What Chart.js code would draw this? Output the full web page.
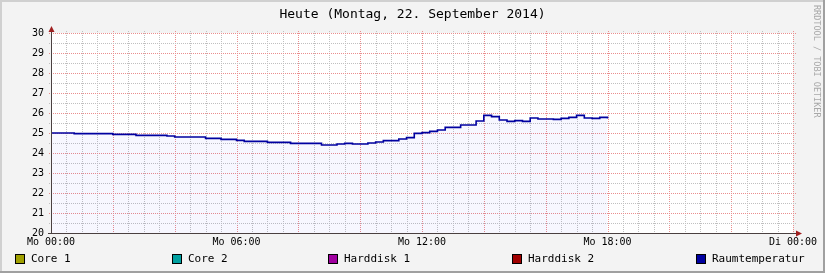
<!DOCTYPE html>
<html>
<head>
<meta charset="utf-8">
<script src="https://cdn.jsdelivr.net/npm/chart.js@4"></script>
<style>
  html, body { margin: 0; padding: 0; background: #f3f3f3; }
  #wrap { width: 825px; height: 273px; }
</style>
</head>
<body>
<div id="wrap"><canvas id="rrd" width="825" height="273"></canvas></div>
<script>
const seriesNames = ["Core 1", "Core 2", "Harddisk 1", "Harddisk 2", "Raumtemperatur"];
const seriesColors = ["#a0a000", "#00a0a0", "#a000a0", "#a00000", "#0000a0"];
const stepMinutes = 15;
const raumTemp = [
  25.0, 25.0, 25.0, 24.97, 24.97, 24.97, 24.97, 24.97, 24.93, 24.93,
  24.93, 24.88, 24.88, 24.88, 24.88, 24.85, 24.8, 24.8, 24.8, 24.8,
  24.73, 24.73, 24.68, 24.68, 24.63, 24.58, 24.58, 24.58, 24.53, 24.53,
  24.53, 24.48, 24.48, 24.48, 24.48, 24.4, 24.4, 24.45, 24.48, 24.45,
  24.45, 24.5, 24.55, 24.62, 24.62, 24.7, 24.77, 24.98, 25.02, 25.08,
  25.15, 25.28, 25.28, 25.4, 25.4, 25.6, 25.88, 25.82, 25.65, 25.58,
  25.62, 25.58, 25.75, 25.7, 25.7, 25.68, 25.73, 25.78, 25.88, 25.75,
  25.73, 25.78, 25.73
];
const xTickLabels = { 0: "Mo 00:00", 360: "Mo 06:00", 720: "Mo 12:00", 1080: "Mo 18:00", 1440: "Di 00:00" };
const titleText = "Heute (Montag, 22. September 2014)";
const watermark = "RRDTOOL / TOBI OETIKER";

const MONO = "'DejaVu Sans Mono', monospace";
const gridRed = "#ea8e8e";
const gridGray = "#c0c0c0";
const legendX = [15, 172, 328, 512, 696];
// Gitter: fein alle 30 min / 0,5 Grad, grob alle 2 h / 1 Grad
const xMinor = 30, xMajor = 120, yMinor = 0.5, yMajor = 1;

const raumPoints = raumTemp.map((v, i) => ({ x: i * stepMinutes, y: v }));

const datasets = seriesNames.map((name, i) => ({
  label: name,
  data: name === "Raumtemperatur" ? raumPoints : [],
  borderColor: seriesColors[i],
  backgroundColor: "rgba(0, 0, 255, 0.03)",
  borderWidth: 1.6,
  pointRadius: 0,
  stepped: true,
  fill: name === "Raumtemperatur" ? "start" : false,
}));

function dottedV(ctx, x, y0, y1) {
  for (let y = y0; y <= y1; y += 2) ctx.fillRect(x, y, 1, 1);
}
function dottedH(ctx, y, x0, x1) {
  for (let x = x0; x <= x1; x += 2) ctx.fillRect(x, y, 1, 1);
}

const rrdDeko = {
  id: "rrdDeko",
  beforeDraw(chart) {
    const { ctx, chartArea: a } = chart;
    ctx.save();
    ctx.fillStyle = "#f3f3f3";
    ctx.fillRect(0, 0, chart.width, chart.height);
    // Rahmen
    ctx.fillStyle = "#d0d0d0";
    ctx.fillRect(0, 0, chart.width, 2);
    ctx.fillRect(0, 0, 2, chart.height);
    ctx.fillStyle = "#a0a0a0";
    ctx.fillRect(0, chart.height - 2, chart.width, 2);
    ctx.fillRect(chart.width - 2, 0, 2, chart.height);
    ctx.fillStyle = "#ffffff";
    ctx.fillRect(a.left, a.top, a.right - a.left, a.bottom - a.top);
    ctx.restore();
  },
  beforeDatasetsDraw(chart) {
    const { ctx, chartArea: a, scales } = chart;
    const top = Math.round(a.top), bottom = Math.round(a.bottom);
    const left = Math.round(a.left), right = Math.round(a.right);
    ctx.save();
    for (let m = scales.x.min + xMinor; m <= scales.x.max; m += xMinor) {
      const x = Math.round(scales.x.getPixelForValue(m));
      ctx.fillStyle = m % xMajor === 0 ? gridRed : gridGray;
      dottedV(ctx, x, top - 2, bottom - 1);
    }
    for (let v = scales.y.min + yMinor; v <= scales.y.max; v += yMinor) {
      const y = Math.round(scales.y.getPixelForValue(v));
      ctx.fillStyle = v % yMajor === 0 ? gridRed : gridGray;
      dottedH(ctx, y, left - 2, right + 2);
    }
    ctx.restore();
  },
  afterDraw(chart) {
    const { ctx, chartArea: a } = chart;
    const L = Math.round(a.left), B = Math.round(a.bottom), T = Math.round(a.top), R = Math.round(a.right);
    ctx.save();
    // Achsen
    ctx.fillStyle = "#4a4040";
    ctx.fillRect(L, T - 3, 1, B - T + 4);
    ctx.fillRect(L - 3, B, R - L + 8, 1);
    ctx.fillStyle = "#a02020";
    ctx.beginPath();
    ctx.moveTo(L + 0.5, T - 7);
    ctx.lineTo(L - 2.5, T - 1);
    ctx.lineTo(L + 3.5, T - 1);
    ctx.closePath();
    ctx.fill();
    ctx.beginPath();
    ctx.moveTo(R + 9, B + 0.5);
    ctx.lineTo(R + 3, B - 2.5);
    ctx.lineTo(R + 3, B + 3.5);
    ctx.closePath();
    ctx.fill();

    // Titel
    ctx.fillStyle = "#000";
    ctx.font = "13px " + MONO;
    ctx.textAlign = "center";
    ctx.textBaseline = "middle";
    ctx.fillText(titleText, chart.width / 2, 14.5);

    // Wasserzeichen
    ctx.save();
    ctx.translate(816, 5);
    ctx.rotate(Math.PI / 2);
    ctx.fillStyle = "#a8a8a8";
    ctx.font = "8.5px " + MONO;
    ctx.textAlign = "left";
    ctx.textBaseline = "middle";
    ctx.fillText(watermark, 0, 0);
    ctx.restore();

    // Legende
    ctx.font = "11px " + MONO;
    ctx.textAlign = "left";
    ctx.textBaseline = "middle";
    chart.data.datasets.forEach((ds, i) => {
      const x = legendX[i];
      ctx.fillStyle = ds.borderColor;
      ctx.fillRect(x, 254, 10, 10);
      ctx.strokeStyle = "#000";
      ctx.lineWidth = 1;
      ctx.strokeRect(x + 0.5, 254.5, 9, 9);
      ctx.fillStyle = "#000";
      ctx.fillText(ds.label, x + 16, 259.5);
    });
    ctx.restore();
  },
};

new Chart(document.getElementById("rrd"), {
  type: "line",
  data: { datasets },
  options: {
    responsive: false,
    animation: false,
    events: [],
    layout: { padding: { left: 0, right: 32, top: 33, bottom: 0 } },
    plugins: { legend: { display: false }, tooltip: { enabled: false } },
    scales: {
      x: {
        type: "linear",
        min: 0,
        max: 1440,
        afterFit: (s) => { s.height = 40; },
        ticks: {
          stepSize: 360,
          autoSkip: false,
          maxRotation: 0,
          padding: 3,
          color: "#000",
          font: { family: MONO, size: 10 },
          callback: (v) => xTickLabels[v] ?? "",
        },
        grid: { display: false, drawTicks: false },
        border: { display: false },
      },
      y: {
        min: 20,
        max: 30,
        afterFit: (s) => { s.width = 51; },
        ticks: {
          stepSize: 1,
          autoSkip: false,
          padding: 7,
          color: "#000",
          font: { family: MONO, size: 10 },
          callback: (v) => String(v),
        },
        grid: { display: false, drawTicks: false },
        border: { display: false },
      },
    },
  },
  plugins: [rrdDeko],
});
</script>
</body>
</html>
